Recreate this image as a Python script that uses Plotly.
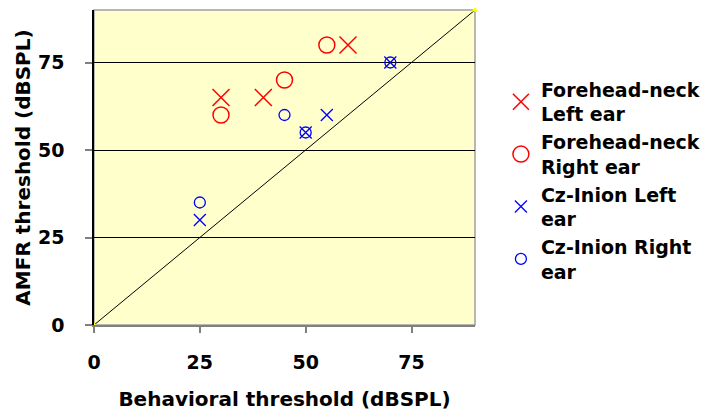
import plotly.graph_objects as go

fn_left_x = [30, 40, 60]
fn_left_y = [65, 65, 80]
fn_right_x = [30, 45, 55]
fn_right_y = [60, 70, 80]
cz_left_x = [25, 50, 55, 70]
cz_left_y = [30, 55, 60, 75]
cz_right_x = [25, 45, 50, 70]
cz_right_y = [35, 60, 55, 75]
diag_x = [0, 90]
diag_y = [0, 90]
ticks = [0, 25, 50, 75]

FONT = "DejaVu Sans, sans-serif"

fig = go.Figure()
fig.add_trace(go.Scatter(x=diag_x, y=diag_y, mode="lines+markers", cliponaxis=False,
                         line=dict(color="black", width=1),
                         marker=dict(symbol="triangle-up", color="#FFFF00", size=6),
                         showlegend=False, hoverinfo="skip"))
fig.add_trace(go.Scatter(x=fn_left_x, y=fn_left_y, mode="markers",
                         name="<b>Forehead-neck<br>Left ear</b>",
                         marker=dict(symbol="x-thin-open", size=17, color="#FF0000",
                                     line=dict(color="#FF0000", width=1.5))))
fig.add_trace(go.Scatter(x=fn_right_x, y=fn_right_y, mode="markers",
                         name="<b>Forehead-neck<br>Right ear</b>",
                         marker=dict(symbol="circle-open", size=16, color="#FF0000",
                                     line=dict(color="#FF0000", width=1.5))))
fig.add_trace(go.Scatter(x=cz_left_x, y=cz_left_y, mode="markers",
                         name="<b>Cz-Inion Left<br>ear</b>",
                         marker=dict(symbol="x-thin-open", size=12, color="#0000FF",
                                     line=dict(color="#0000FF", width=1.3))))
fig.add_trace(go.Scatter(x=cz_right_x, y=cz_right_y, mode="markers",
                         name="<b>Cz-Inion Right<br>ear</b>",
                         marker=dict(symbol="circle-open", size=11, color="#0000FF",
                                     line=dict(color="#0000FF", width=1.3))))

fig.add_shape(type="rect", xref="paper", yref="paper", x0=0, y0=0, x1=1, y1=1,
              line=dict(color="#A0A0A0", width=1.5), layer="below")

fig.update_layout(
    width=709, height=412,
    margin=dict(l=86, r=242, t=2, b=95, autoexpand=False),
    paper_bgcolor="white", plot_bgcolor="#FFFFCC",
    font=dict(family=FONT, size=20, color="black"),
    legend=dict(x=1.068, y=0.808, xanchor="left", yanchor="top",
                font=dict(family=FONT, size=19, color="black"),
                tracegroupgap=0, itemsizing="trace", bgcolor="rgba(0,0,0,0)"),
    xaxis=dict(range=[0, 90], tickvals=ticks, ticktext=[f"<b>{t}</b>" for t in ticks],
               automargin=False,
               showgrid=False, zeroline=False, showline=True, linecolor="#808080", linewidth=2,
               ticks="outside", ticklen=6, tickcolor="#808080", tickwidth=2,
               tickfont=dict(size=19), ticklabelstandoff=13,
               title=dict(text="<b>Behavioral threshold (dBSPL)</b>", font=dict(size=20), standoff=20)),
    yaxis=dict(range=[0, 90], tickvals=ticks, ticktext=[f"<b>{t}</b>" for t in ticks],
               automargin=False,
               showgrid=True, gridcolor="black", gridwidth=1, zeroline=False,
               showline=True, linecolor="black", linewidth=1.5,
               ticks="outside", ticklen=7, tickcolor="#808080", tickwidth=2,
               tickfont=dict(size=19), ticklabelstandoff=17,
               title=dict(text="<b>AMFR threshold (dBSPL)</b>", font=dict(size=20), standoff=2)),
)

fig.write_html("out.html")
